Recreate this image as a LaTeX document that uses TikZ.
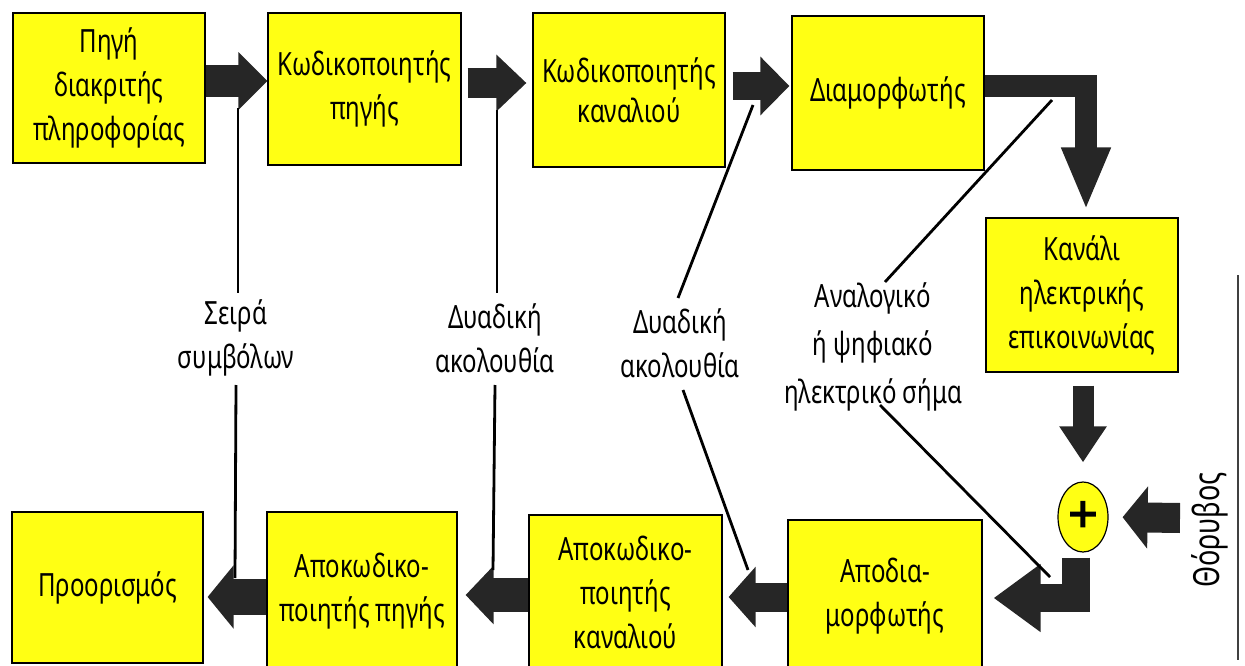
\documentclass[tikz,border=0pt]{standalone}
\usepackage{fontspec}
\setmainfont{Noto Sans}[FakeStretch=0.75]
\newfontfamily\plusfont{Noto Sans}[FakeBold=2.5]
\usetikzlibrary{arrows.meta,shapes.geometric,calc}
\definecolor{boxyellow}{RGB}{255,255,20}
\definecolor{arrowgray}{RGB}{38,38,38}
\newcommand\diagfont{\fontsize{32}{44}\selectfont}
\begin{document}
\begin{tikzpicture}[x=1pt,y=-1pt,
  box/.style={draw=black,line width=1.2pt,fill=boxyellow,align=center,inner sep=0pt,font=\diagfont},
  lab/.style={align=center,inner sep=0pt,font=\diagfont},
  fat/.style n args={3}{draw=arrowgray,line width=#1,line join=miter,
     arrows={-{Triangle[length=#2,width=#3]}}},
  thinline/.style={draw=black,line width=2.8pt}]
\useasboundingbox (0,0) rectangle (1245,666);
\clip (0,0) rectangle (1245,666);

% top row
\node[box,minimum width=192pt,minimum height=150pt] (b1) at (109,88) {Πηγή\\διακριτής\\πληροφορίας};
\node[box,minimum width=193pt,minimum height=152pt] (b2) at (364.5,89) {Κωδικοποιητής\\πηγής};
\node[box,minimum width=192pt,minimum height=154pt,font=\fontsize{32}{40}\selectfont] (b3) at (629,90) {Κωδικοποιητής\\καναλιού};
\node[box,minimum width=192pt,minimum height=154pt] (b4) at (888,93) {Διαμορφωτής};
\node[box,minimum width=192pt,minimum height=154pt] (b5) at (1082,295) {Κανάλι\\ηλεκτρικής\\επικοινωνίας};

% bottom row
\node[box,minimum width=191pt,minimum height=151pt] (b6) at (107.5,587.5) {Προορισμός};
\node[box,minimum width=190pt,minimum height=158pt] (b7) at (362,591) {Αποκωδικο-\\ποιητής πηγής};
\node[box,minimum width=193pt,minimum height=155pt] (b8) at (625.5,592.5) {Αποκωδικο-\\ποιητής\\καναλιού};
\node[box,minimum width=194pt,minimum height=152pt] (b9) at (885,596) {Αποδια-\\μορφωτής};

% adder
\node[ellipse,draw=black,line width=1.2pt,fill=boxyellow,minimum width=50pt,minimum height=70pt,inner sep=0pt,
      font=\plusfont\bfseries\fontsize{52}{52}\selectfont] (plus) at (1083,517) {+};

% labels
\node[lab] (lab1) at (236,338) {Σειρά\\συμβόλων};
\node[lab] (lab2) at (495,338) {Δυαδική\\ακολουθία};
\node[lab] (lab3) at (680,343) {Δυαδική\\ακολουθία};
\node[lab,font=\fontsize{32}{48}\selectfont] (lab4) at (873,347) {Αναλογικό\\ή ψηφιακό\\ηλεκτρικό σήμα};
\node[lab,rotate=90,font=\fontsize{36}{40}\selectfont] (noiselab) at (1210,530) {Θόρυβος};

% fat arrows, top
\draw[fat={32pt}{29pt}{56pt}] (b1.east |- 0,81) -- (b2.west |- 0,81);
\draw[fat={30pt}{30pt}{55pt},shorten <=6pt,shorten >=6pt] (b2.east |- 0,83) -- (b3.west |- 0,83);
\draw[fat={28pt}{29pt}{57pt},shorten <=7pt,shorten >=2pt] (b3.east |- 0,86) -- (b4.west |- 0,86);
\draw[fat={22pt}{63pt}{45pt},shorten >=7pt] (b4.east |- 0,86) -- (1086,86) -- (b5.north -| 1086,0);
\draw[fat={21pt}{36pt}{45pt},shorten <=13pt,shorten >=19pt] (b5.south -| 1083,0) -- (plus.north);
\coordinate (noise) at (1180,518);
\draw[fat={30pt}{25pt}{61pt},shorten >=14pt] (noise) -- (plus.east);
\draw[fat={28pt}{47pt}{65pt},shorten >=11pt] ([xshift=-7pt,yshift=-5pt]plus.south) -- (1076,598) -- (b9.east |- 0,598);

% fat arrows, bottom
\draw[fat={29pt}{27pt}{59pt},shorten >=6pt] (b9.west |- 0,597) -- (b8.east |- 0,597);
\draw[fat={34pt}{28pt}{57pt},shorten >=8pt] (b8.west |- 0,595) -- (b7.east |- 0,595);
\draw[fat={36pt}{26pt}{62pt},shorten >=4pt] (b7.west |- 0,597) -- (b6.east |- 0,597);

% thin label lines
\coordinate (c1a) at (238,108); \coordinate (c1b) at (238,293);
\coordinate (c1c) at (236,385); \coordinate (c1d) at (235,578);
\draw[thinline] (c1a) -- (c1b); \draw[thinline] (c1c) -- (c1d);
\coordinate (c2a) at (497,110); \coordinate (c2b) at (497,293);
\coordinate (c2c) at (495,385); \coordinate (c2d) at (493,570);
\draw[thinline] (c2a) -- (c2b); \draw[thinline] (c2c) -- (c2d);
\coordinate (c3a) at (753,105); \coordinate (c3b) at (678,298);
\coordinate (c3c) at (683,390); \coordinate (c3d) at (748,570);
\draw[thinline] (c3a) -- (c3b); \draw[thinline] (c3c) -- (c3d);
\coordinate (c4a) at (1052,100); \coordinate (c4b) at (885,282);
\coordinate (c4c) at (880,405); \coordinate (c4d) at (1050,577);
\draw[thinline] (c4a) -- (c4b); \draw[thinline] (c4c) -- (c4d);

% page edge line
\coordinate (e1) at (1238,275); \coordinate (e2) at (1238,660);
\draw[gray!50!black,line width=1.2pt] (e1) -- (e2);
\end{tikzpicture}
\end{document}
